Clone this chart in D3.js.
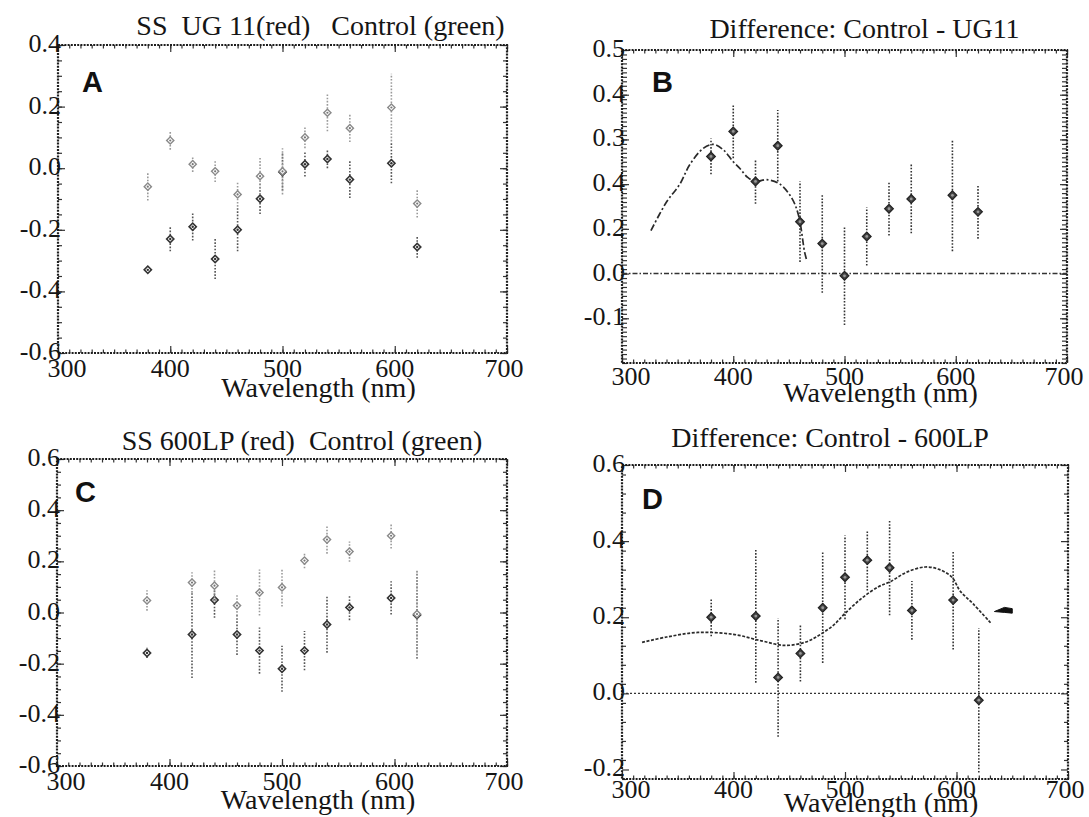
<!DOCTYPE html>
<html>
<head>
<meta charset="utf-8">
<script src="https://cdn.jsdelivr.net/npm/d3@7"></script>
<style>
  body { margin: 0; background: #fff; }
  svg { display: block; }
</style>
</head>
<body>
<svg id="fig" width="1089" height="817"></svg>
<script>
// ---- data ----
const wlAB = [380, 400, 420, 440, 460, 480, 500, 520, 540, 560, 597, 620];
const aControl    = [-0.06, 0.09, 0.013, -0.01, -0.085, -0.026, -0.01, 0.10, 0.18, 0.13, 0.197, -0.115];
const aControlErr = [0.045, 0.03, 0.025, 0.035, 0.04, 0.06, 0.075, 0.035, 0.06, 0.045, 0.11, 0.045];
const aUG11       = [-0.33, -0.23, -0.19, -0.295, -0.2, -0.099, -0.012, 0.013, 0.03, -0.037, 0.016, -0.256];
const aUG11Err    = [0.01, 0.04, 0.045, 0.065, 0.07, 0.05, 0.06, 0.04, 0.03, 0.06, 0.065, 0.035];

const bDiff = [0.262, 0.318, 0.206, 0.286, 0.116, 0.067, -0.005, 0.083, 0.145, 0.167, 0.175, 0.138];
const bErr  = [0.04, 0.06, 0.05, 0.08, 0.09, 0.11, 0.11, 0.065, 0.06, 0.077, 0.125, 0.06];
const bFitWl  = [326, 340, 352, 361, 373, 382, 391, 400, 406, 413, 420, 430, 442, 453, 459, 464, 466];
const bFitVal = [0.096, 0.16, 0.2, 0.244, 0.28, 0.289, 0.277, 0.25, 0.235, 0.215, 0.206, 0.21, 0.2, 0.167, 0.127, 0.05, 0.03];
const bTickVals = [0.5, 0.4, 0.3, 0.2, 0.1, 0.0, -0.1];
const bTickText = ["0.5", "0.4", "0.3", "0.4", "0.2", "0.0", "-0.1"];

const wlCD = [380, 420, 440, 460, 480, 500, 520, 540, 560, 597, 620];
const cControl    = [0.047, 0.117, 0.105, 0.027, 0.078, 0.098, 0.203, 0.285, 0.238, 0.30, -0.006];
const cControlErr = [0.04, 0.04, 0.06, 0.04, 0.09, 0.075, 0.03, 0.055, 0.04, 0.05, 0.175];
const c600LP      = [-0.158, -0.086, 0.049, -0.086, -0.149, -0.22, -0.149, -0.047, 0.02, 0.057, -0.01];
const c600LPErr   = [0.02, 0.17, 0.07, 0.08, 0.09, 0.09, 0.077, 0.11, 0.05, 0.065, 0.17];

const dDiff = [0.2, 0.203, 0.042, 0.105, 0.225, 0.305, 0.35, 0.33, 0.218, 0.245, -0.018];
const dErr  = [0.05, 0.175, 0.156, 0.074, 0.145, 0.11, 0.08, 0.125, 0.077, 0.13, 0.19];
const dFitWl  = [318, 340, 368, 400, 425, 446, 465, 478, 490, 500, 515, 530, 541, 555, 572, 585, 596, 603, 615, 631];
const dFitVal = [0.134, 0.148, 0.16, 0.155, 0.138, 0.126, 0.135, 0.155, 0.18, 0.21, 0.25, 0.28, 0.294, 0.318, 0.332, 0.325, 0.305, 0.27, 0.235, 0.184];
// small arrow-like mark right of the fit in D
const dMarkWl = [634, 643, 650];
const dMarkVal = [0.215, 0.218, 0.216];

const xTicks = [300, 400, 500, 600, 700];

const SERIF = "'Liberation Serif', 'Times New Roman', Times, serif";
const SANS = "'Liberation Sans', Arial, Helvetica, sans-serif";

const svg = d3.select("#fig");

function panel(p) {
  const x = d3.scaleLinear().domain([300, 700]).range([p.left, p.right]);
  const y = d3.scaleLinear().domain(p.yDomain).range([p.bottom, p.top]);
  const g = svg.append("g");

  // ticks on all four sides, pointing inward
  const addAxis = (axis, tx, ty) => g.append("g")
    .attr("transform", `translate(${tx},${ty})`)
    .call(axis)
    .call(s => s.select(".domain").remove())
    .call(s => s.selectAll("line").attr("stroke", "#333").attr("stroke-width", 1.2));

  const xMinor = d3.range(300, 701, 10);
  const yMinor = d3.range(p.yDomain[0], p.yDomain[1] + 1e-9, p.yMinor);
  addAxis(d3.axisBottom(x).tickValues(xMinor).tickSize(-3.5).tickFormat(""), 0, p.bottom);
  addAxis(d3.axisTop(x).tickValues(xMinor).tickSize(-3.5).tickFormat(""), 0, p.top);
  addAxis(d3.axisBottom(x).tickValues(xTicks).tickSize(-7).tickFormat(""), 0, p.bottom);
  addAxis(d3.axisTop(x).tickValues(xTicks).tickSize(-7).tickFormat(""), 0, p.top);
  addAxis(d3.axisLeft(y).tickValues(yMinor).tickSize(-p.yMinorLen).tickFormat(""), p.left, 0);
  addAxis(d3.axisRight(y).tickValues(yMinor).tickSize(-p.yMinorLen).tickFormat(""), p.right, 0);
  addAxis(d3.axisLeft(y).tickValues(p.yTicks).tickSize(-7).tickFormat(""), p.left, 0);
  addAxis(d3.axisRight(y).tickValues(p.yTicks).tickSize(-7).tickFormat(""), p.right, 0);

  // dotted frame
  g.append("rect")
    .attr("x", p.left).attr("y", p.top)
    .attr("width", p.right - p.left).attr("height", p.bottom - p.top)
    .attr("fill", "none").attr("stroke", "#1e1e1e").attr("stroke-width", 2.2)
    .attr("stroke-dasharray", "2,1.2");

  const txt = sel => sel.style("font-family", SERIF).attr("fill", "#151515");

  // y tick labels
  g.selectAll(".ylab").data(p.yTicks).join("text")
    .attr("class", "ylab")
    .attr("x", p.left + 3).attr("y", d => y(d) + 7)
    .attr("text-anchor", "end").attr("font-size", 26)
    .call(txt)
    .text((d, i) => p.yText ? p.yText[i] : d3.format(".1f")(d).replace("−", "-"));

  // x tick labels
  g.selectAll(".xlab").data(xTicks).join("text")
    .attr("class", "xlab")
    .attr("x", (d, i) => x(d) + (i === 0 ? 9 : i === xTicks.length - 1 ? -3 : 0))
    .attr("y", p.bottom + p.xTickDy)
    .attr("text-anchor", "middle").attr("font-size", 26)
    .call(txt)
    .text(d => d);

  g.append("text")
    .attr("x", (p.left + p.right) / 2 + 36).attr("y", p.bottom + p.xTitleDy)
    .attr("text-anchor", "middle").attr("font-size", 28)
    .call(txt)
    .text("Wavelength (nm)");

  g.append("text")
    .attr("x", (p.left + p.right) / 2 + p.titleDx).attr("y", p.top - p.titleDy)
    .attr("text-anchor", "middle").attr("font-size", 28)
    .attr("xml:space", "preserve")
    .style("white-space", "pre")
    .call(txt)
    .text(p.title);

  g.append("text")
    .attr("x", p.left + p.letterDx).attr("y", p.top + p.letterDy)
    .attr("font-weight", "bold").attr("font-size", 29)
    .style("font-family", SANS).attr("fill", "#111")
    .text(p.letter);

  if (p.zeroLine) {
    g.append("line")
      .attr("x1", p.left).attr("x2", p.right)
      .attr("y1", y(0)).attr("y2", y(0))
      .attr("stroke", "#333").attr("stroke-width", 1.4)
      .attr("stroke-dasharray", p.zeroDash);
  }

  if (p.fit) {
    const line = d3.line().curve(d3.curveCatmullRom.alpha(0.5))
      .x(d => x(d[0])).y(d => y(d[1]));
    g.append("path")
      .datum(p.fit[0].map((w, i) => [w, p.fit[1][i]]))
      .attr("d", line)
      .attr("fill", "none").attr("stroke", "#2a2a2a").attr("stroke-width", 1.7)
      .attr("stroke-dasharray", p.fitDash);
  }

  if (p.mark) {
    const pts = p.mark[0].map((w, i) => [x(w), y(p.mark[1][i])]);
    // tapered blob, thin on the left, thick on the right
    g.append("path")
      .attr("d", `M${pts[0][0]},${pts[0][1]} L${pts[1][0]},${pts[1][1] - 3} L${pts[2][0]},${pts[2][1] - 2.5} L${pts[2][0]},${pts[2][1] + 2} L${pts[1][0]},${pts[1][1] + 2} Z`)
      .attr("fill", "#111").attr("stroke", "#111").attr("stroke-width", 1)
      .attr("stroke-linejoin", "round");
  }

  p.series.forEach(s => {
    const pts = s.wl.map((w, i) => ({ w, v: s.v[i], e: s.e[i] }));
    const sg = g.append("g");
    sg.selectAll("line").data(pts).join("line")
      .attr("x1", d => x(d.w)).attr("x2", d => x(d.w))
      .attr("y1", d => Math.min(p.bottom, y(d.v - d.e)))
      .attr("y2", d => Math.max(p.top, y(d.v + d.e)))
      .attr("stroke", s.barColor).attr("stroke-width", 1.6)
      .attr("stroke-dasharray", "1.6,1.6");
    sg.selectAll("path").data(pts).join("path")
      .attr("transform", d => `translate(${x(d.w)},${y(d.v)}) rotate(45)`)
      .attr("d", d3.symbol(d3.symbolSquare, s.size)())
      .attr("fill", s.fill).attr("stroke", s.stroke).attr("stroke-width", s.sw);
    sg.selectAll("circle").data(pts).join("circle")
      .attr("cx", d => x(d.w)).attr("cy", d => y(d.v)).attr("r", s.dot)
      .attr("fill", s.dotFill);
  });
}

const lightSeries = (wl, v, e) => ({ wl, v, e, barColor: "#9a9a9a", fill: "#fff", stroke: "#8a8a8a", sw: 1.4, size: 26, dot: 1.1, dotFill: "#777" });
const darkSeries = (wl, v, e) => ({ wl, v, e, barColor: "#555", fill: "#fff", stroke: "#333", sw: 1.6, size: 26, dot: 1.2, dotFill: "#333" });
const diffSeries = (wl, v, e) => ({ wl, v, e, barColor: "#333", fill: "#444", stroke: "#222", sw: 1.2, size: 38, dot: 1.4, dotFill: "#999" });

panel({
  letter: "A", title: "SS  UG 11(red)   Control (green)", titleDx: 38, titleDy: 10,
  left: 58, right: 507, top: 45, bottom: 353, yDomain: [-0.6, 0.4],
  yTicks: [0.4, 0.2, 0.0, -0.2, -0.4, -0.6], yMinor: 0.05, yMinorLen: 4,
  letterDx: 24, letterDy: 47, xTickDy: 24, xTitleDy: 44,
  series: [darkSeries(wlAB, aUG11, aUG11Err), lightSeries(wlAB, aControl, aControlErr)]
});

panel({
  letter: "B", title: "Difference: Control - UG11", titleDx: 20, titleDy: 12,
  left: 622, right: 1067, top: 50, bottom: 363, yDomain: [-0.2, 0.5],
  yTicks: bTickVals, yText: bTickText, yMinor: 0.01, yMinorLen: 5,
  letterDx: 30, letterDy: 42, xTickDy: 22, xTitleDy: 39,
  zeroLine: true, zeroDash: "5,2,1.5,2",
  fit: [bFitWl, bFitVal], fitDash: "7,2.5,2,2.5",
  series: [diffSeries(wlAB, bDiff, bErr)]
});

panel({
  letter: "C", title: "SS 600LP (red)  Control (green)", titleDx: 20, titleDy: 9,
  left: 57, right: 507, top: 459, bottom: 766, yDomain: [-0.6, 0.6],
  yTicks: [0.6, 0.4, 0.2, 0.0, -0.2, -0.4, -0.6], yMinor: 0.05, yMinorLen: 4,
  letterDx: 18, letterDy: 43, xTickDy: 24, xTitleDy: 43,
  series: [darkSeries(wlCD, c600LP, c600LPErr), lightSeries(wlCD, cControl, cControlErr)]
});

panel({
  letter: "D", title: "Difference: Control - 600LP", titleDx: -15, titleDy: 18,
  left: 622, right: 1068, top: 465, bottom: 779, yDomain: [-0.225, 0.6],
  yTicks: [0.6, 0.4, 0.2, 0.0, -0.2], yMinor: 0.05, yMinorLen: 4,
  letterDx: 20, letterDy: 44, xTickDy: 19, xTitleDy: 33,
  zeroLine: true, zeroDash: "2,2",
  fit: [dFitWl, dFitVal], fitDash: "3,1.6",
  mark: [dMarkWl, dMarkVal],
  series: [diffSeries(wlCD, dDiff, dErr)]
});
</script>
</body>
</html>
